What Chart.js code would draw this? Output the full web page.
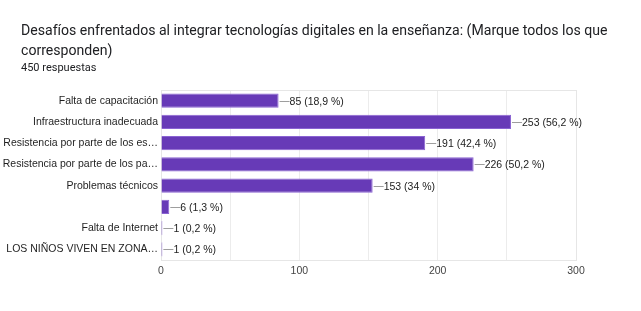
<!DOCTYPE html>
<html>
<head>
<meta charset="utf-8">
<script src="https://cdn.jsdelivr.net/npm/chart.js@4"></script>
<style>
  html, body { margin: 0; padding: 0; background: #fff; }
  #wrap { position: relative; width: 641px; height: 311px; overflow: hidden; }
  #title { position: absolute; left: 21px; top: 20px; width: 620px; font: 14.1px Roboto, sans-serif; line-height: 20px; color: #202124; white-space: nowrap; }
  #sub { position: absolute; left: 21px; top: 61px; font: 11px Roboto, sans-serif; color: #202124; }
  canvas { position: absolute; left: 0; top: 0; }
</style>
</head>
<body>
<div id="wrap">
  <canvas id="c" width="641" height="311"></canvas>
  <div id="title">Desafíos enfrentados al integrar tecnologías digitales en la enseñanza: (Marque todos los que<br>corresponden)</div>
  <div id="sub">450 respuestas</div>
</div>
<script>
const categories = [
  'Falta de capacitación',
  'Infraestructura inadecuada',
  'Resistencia por parte de los es…',
  'Resistencia por parte de los pa…',
  'Problemas técnicos',
  '',
  'Falta de Internet',
  'LOS NIÑOS VIVEN EN ZONA…',
];
const counts = [85, 253, 191, 226, 153, 6, 1, 1];
const percents = ['18,9', '56,2', '42,4', '50,2', '34', '1,3', '0,2', '0,2'];
const xTicks = [0, 100, 200, 300];

const FONT = 'Arial, "Liberation Sans", sans-serif';

// box round plot area + leader lines and value labels
const labelsPlugin = {
  id: 'valueLabels',
  beforeDatasetsDraw(chart) {
    const { ctx, chartArea: a } = chart;
    ctx.save();
    ctx.strokeStyle = '#e6e6e6';
    ctx.lineWidth = 1;
    ctx.strokeRect(a.left + 0.5, a.top + 0.5, a.right - a.left, a.bottom - a.top);
    ctx.restore();
  },
  afterDatasetsDraw(chart) {
    const { ctx } = chart;
    const meta = chart.getDatasetMeta(0);
    ctx.save();
    ctx.font = '10.5px ' + FONT;
    ctx.textBaseline = 'middle';
    meta.data.forEach((bar, i) => {
      const x = bar.x;
      const y = Math.round(bar.y) + 0.5;
      ctx.strokeStyle = '#9e9e9e';
      ctx.lineWidth = 1;
      ctx.beginPath();
      ctx.moveTo(x + 1, y);
      ctx.lineTo(x + 11, y);
      ctx.stroke();
      ctx.fillStyle = '#222';
      ctx.fillText(`${counts[i]} (${percents[i]} %)`, x + 11, y + 0.5);
    });
    ctx.restore();
  },
};

new Chart(document.getElementById('c'), {
  type: 'bar',
  data: {
    labels: categories,
    datasets: [{
      data: counts,
      backgroundColor: '#673ab7',
      borderColor: '#8a63d2',
      borderWidth: 1,
      borderSkipped: 'left',
      categoryPercentage: 1,
      barPercentage: 0.66,
    }],
  },
  options: {
    indexAxis: 'y',
    responsive: false,
    animation: false,
    layout: { padding: { left: 0, right: 65, top: 90, bottom: 0 } },
    plugins: { legend: { display: false }, tooltip: { enabled: false } },
    scales: {
      x: {
        min: 0,
        max: 300,
        afterFit: (s) => { s.height = 51; },
        afterBuildTicks: (s) => {
          const t = [];
          for (let v = 0; v <= 300; v += 50) t.push({ value: v });
          s.ticks = t;
        },
        ticks: {
          autoSkip: false,
          maxRotation: 0,
          padding: 5,
          color: '#444',
          font: { family: FONT, size: 10.5 },
          callback: (v) => (xTicks.includes(v) ? String(v) : ''),
        },
        grid: { color: '#ececec', drawTicks: false },
        border: { display: false },
      },
      y: {
        afterFit: (s) => { s.width = 161; },
        ticks: {
          color: '#1f1f1f',
          padding: 3,
          font: { family: FONT, size: 10.5 },
        },
        grid: { display: false, drawTicks: false },
        border: { display: true, color: '#333', width: 1 },
      },
    },
  },
  plugins: [labelsPlugin],
});
</script>
</body>
</html>
